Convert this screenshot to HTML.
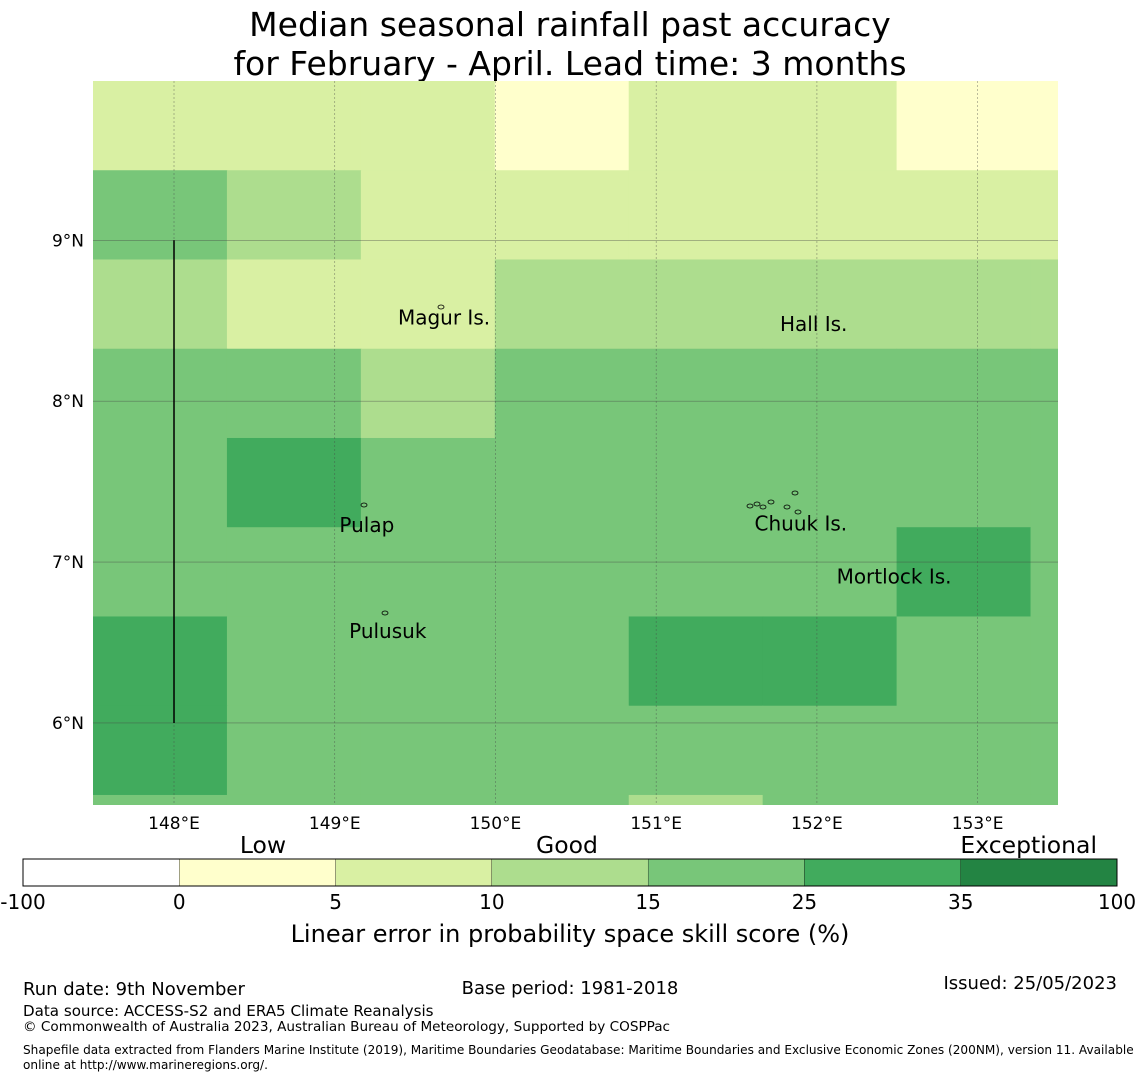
<!DOCTYPE html>
<html><head><meta charset="utf-8"><style>
body{margin:0;background:#fff;width:1140px;height:1080px;overflow:hidden;font-family:"DejaVu Sans","Liberation Sans",sans-serif;}
svg text{font-family:"DejaVu Sans","Liberation Sans",sans-serif;}
</style></head><body>
<svg id="chart" width="1140" height="1080" xmlns="http://www.w3.org/2000/svg">
<text x="570" y="36" font-size="33" text-anchor="middle">Median seasonal rainfall past accuracy</text>
<text x="570" y="75" font-size="33" text-anchor="middle">for February - April. Lead time: 3 months</text>
<g id="map"></g>
<g id="cbar"></g>
<text x="570" y="942" font-size="24" text-anchor="middle">Linear error in probability space skill score (%)</text>
<text x="23" y="995" font-size="18">Run date: 9th November</text>
<text x="570" y="994" font-size="18" text-anchor="middle">Base period: 1981-2018</text>
<text x="1117" y="989" font-size="18" text-anchor="end">Issued: 25/05/2023</text>
<text x="23" y="1016" font-size="15.1">Data source: ACCESS-S2 and ERA5 Climate Reanalysis</text>
<text x="23" y="1031" font-size="13.6">© Commonwealth of Australia 2023, Australian Bureau of Meteorology, Supported by COSPPac</text>
<text x="23" y="1054" font-size="12.1">Shapefile data extracted from Flanders Marine Institute (2019), Maritime Boundaries Geodatabase: Maritime Boundaries and Exclusive Economic Zones (200NM), version 11. Available</text>
<text x="23" y="1069" font-size="12.1">online at http://www.marineregions.org/.</text>
</svg>
<script>
const lonTicks=[148,149,150,151,152,153];
const latTicks=[9,8,7,6];
const binEdges=[-100,0,5,10,15,25,35,100];
const binColors=["#ffffff","#ffffcc","#d9f0a3","#addd8e","#78c679","#41ab5d","#238443"];
const binLabels=["-100","0","5","10","15","25","35","100"];
const cellLon0=147.496, cellDLon=0.8333;
const cellLat0=9.99, cellDLat=0.5547;
const cellValues=[
[7,7,7,3,7,7,3,3],
[20,12,7,7,7,7,7,7],
[12,7,7,12,12,12,12,12],
[20,20,12,20,20,20,20,20],
[20,30,20,20,20,20,20,20],
[20,20,20,20,20,20,30,20],
[30,20,20,20,30,30,20,20],
[30,20,20,20,20,20,20,20],
[20,20,20,20,12,20,20,20]];
const places=["Magur Is.","Hall Is.","Pulap","Chuuk Is.","Mortlock Is.","Pulusuk"];
const placeLon=[149.68,151.98,149.2,151.9,152.48,149.33];
const placeLat=[8.52,8.48,7.23,7.24,6.91,6.57];

const NS="http://www.w3.org/2000/svg";
const X0=93,X1=1058,Y0=81,Y1=805;
const lonMin=147.496,lonMax=153.5,latMax=9.99,latMin=5.49;
const xs=l=>X0+(l-lonMin)/(lonMax-lonMin)*(X1-X0);
const ys=l=>Y0+(latMax-l)/(latMax-latMin)*(Y1-Y0);
function colorOf(v){for(let i=0;i<binColors.length;i++){if(v<binEdges[i+1])return binColors[i];}return binColors[binColors.length-1];}
function mk(tag,attrs,parent){const e=document.createElementNS(NS,tag);for(const k in attrs)e.setAttribute(k,attrs[k]);parent.appendChild(e);return e;}
const map=document.getElementById('map');
const clip=mk('clipPath',{id:'mc'},mk('defs',{},map));
mk('rect',{x:X0,y:Y0,width:X1-X0,height:Y1-Y0},clip);
const cells=mk('g',{'clip-path':'url(#mc)'},map);
cellValues.forEach((row,r)=>row.forEach((v,c)=>{
  const x=xs(cellLon0+c*cellDLon), x2=xs(cellLon0+(c+1)*cellDLon);
  const y=ys(cellLat0-r*cellDLat), y2=ys(cellLat0-(r+1)*cellDLat);
  const e=mk('rect',{x:x,y:y,width:x2-x+0.5,height:y2-y+0.5,fill:colorOf(v)},cells);
  
  
}));
lonTicks.forEach(l=>{
  const x=xs(l);
  mk('line',{x1:x,x2:x,y1:Y0,y2:Y1,stroke:'#444','stroke-width':0.6,'stroke-dasharray':'2,2','stroke-opacity':0.6},map);
  const t=mk('text',{x:x,y:829,'font-size':17,'text-anchor':'middle'},map);t.textContent=l+"°E";
  
  
});
latTicks.forEach(l=>{
  const y=ys(l);
  mk('line',{x1:X0,x2:X1,y1:y,y2:y,stroke:'#444','stroke-width':0.6,'stroke-opacity':0.6},map);
  const t=mk('text',{x:84,y:y+6,'font-size':17,'text-anchor':'end'},map);t.textContent=l+"°N";
  
  
});
mk('line',{x1:xs(148),x2:xs(148),y1:ys(9),y2:ys(6),stroke:'#000','stroke-width':1.5},map);
places.forEach((p,i)=>{
  const t=mk('text',{x:xs(placeLon[i]),y:ys(placeLat[i])+7,'font-size':20,'text-anchor':'middle'},map);t.textContent=p;
  
  
});
[[750,506],[757,504],[771,502],[787,507],[795,493],[798,512],[763,507],[364,505],[385,613],[441,307]].forEach(([x,y])=>mk('ellipse',{cx:x,cy:y,rx:3,ry:2,fill:'none',stroke:'#000','stroke-width':0.8},map));
const cb=document.getElementById('cbar');
const CX0=23,CX1=1117,CY=859,CH=27,segW=(CX1-CX0)/binColors.length;
binColors.forEach((c,i)=>{
  const e=mk('rect',{x:CX0+i*segW,y:CY,width:segW,height:CH,fill:c,stroke:'#000','stroke-width':0.3},cb);
  
  
});
mk('rect',{x:CX0,y:CY,width:CX1-CX0,height:CH,fill:'none',stroke:'#000','stroke-width':1},cb);
binLabels.forEach((l,i)=>{
  const t=mk('text',{x:CX0+i*segW,y:909,'font-size':20,'text-anchor':'middle'},cb);t.textContent=l;
  
  
});
[["Low",263,'middle'],["Good",567,'middle'],["Exceptional",1097,'end']].forEach(([s,x,a])=>{
  const t=mk('text',{x:x,y:853,'font-size':23.5,'text-anchor':a},cb);t.textContent=s;
  
  
});
</script>
</body></html>
